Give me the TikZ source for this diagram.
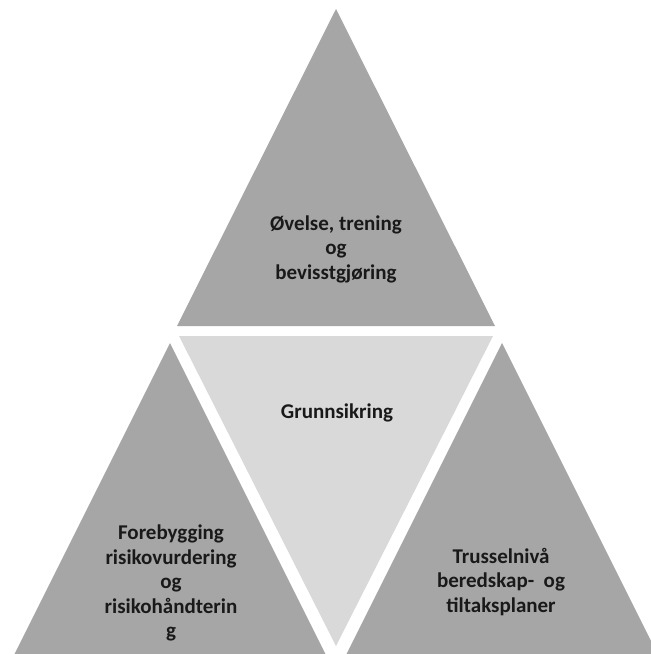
\documentclass[tikz,border=0pt]{standalone}
\usepackage{fontspec}
\setmainfont{Carlito}
\usetikzlibrary{positioning}
\tikzset{
  tri/.style={fill=#1, draw=none},
  lbl/.style={font=\fontsize{21}{24.5}\selectfont\bfseries, text=black!90, align=center, inner sep=0pt},
}

\begin{document}
\begin{tikzpicture}[x=1pt, y=-1pt]
  \useasboundingbox[fill=white] (0,0) rectangle (651,654);
  \clip (0,0) rectangle (651,654);
  % the four triangles
  \fill[tri=gray!70] (336,9) -- (495,326) -- (177,326) -- cycle;
  \fill[tri=gray!30] (179,336) -- (493,336) -- (336,646) -- cycle;
  \fill[tri=gray!70] (170,343) -- (329,661) -- (11,661) -- cycle;
  \fill[tri=gray!70] (502,343) -- (661,661) -- (343,661) -- cycle;
  % texts
  \node[lbl] (ovelse) at (336,249) {Øvelse, trening\\og\\bevisstgjøring};
  \node[lbl] (grunn) at (337,413) {Grunnsikring};
  \node[lbl] (forebygging) at (171,583) {Forebygging\\risikovurdering\\og\\risikohåndterin\\g};
  \node[lbl] (trussel) at (501,582) {Trusselnivå\\beredskap-~~og\\tiltaksplaner};
\end{tikzpicture}
\end{document}
